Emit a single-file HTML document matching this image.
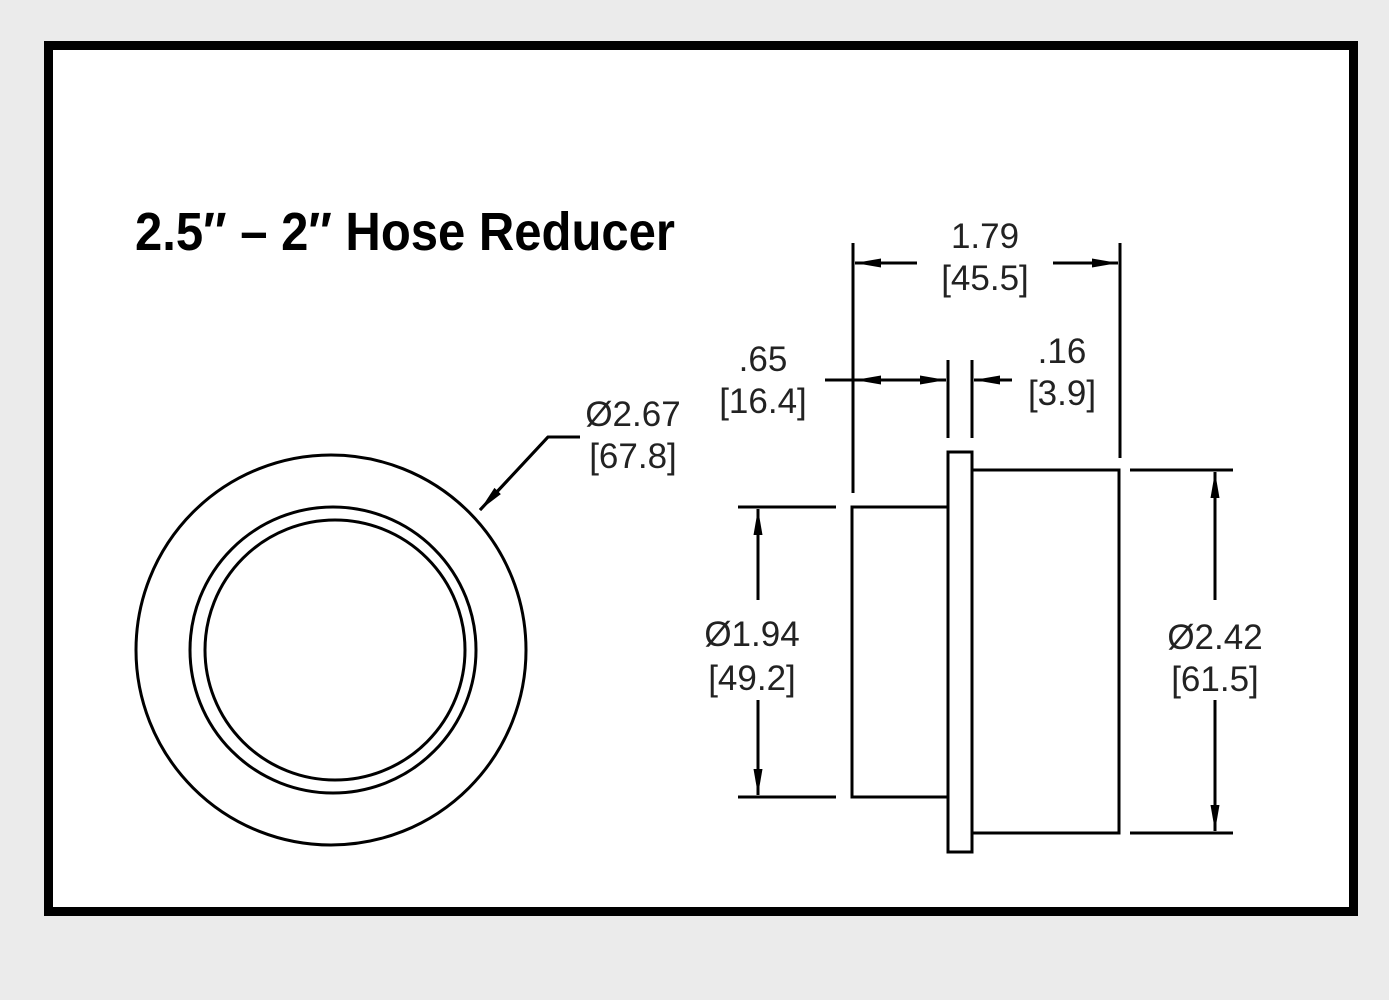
<!DOCTYPE html>
<html><head><style>html,body{margin:0;padding:0;background:#ebebeb;}svg{display:block}</style></head>
<body>
<svg width="1389" height="1000" viewBox="0 0 1389 1000" xmlns="http://www.w3.org/2000/svg">
<defs>
<marker id="a" markerWidth="26" markerHeight="12" refX="26" refY="6" orient="auto" markerUnits="userSpaceOnUse">
<path d="M0,1.5 L26,6 L0,10.5 Z" fill="#000"/></marker>
</defs>
<rect x="0" y="0" width="1389" height="1000" fill="#ebebeb"/>
<rect x="48.5" y="45.5" width="1305" height="866" fill="#fff" stroke="#000" stroke-width="9"/>
<text x="135" y="250" font-family="Liberation Sans, sans-serif" font-weight="bold" font-size="54" textLength="540" lengthAdjust="spacingAndGlyphs">2.5″ – 2″ Hose Reducer</text>
<g fill="none" stroke="#000" stroke-width="3">
<circle cx="331" cy="650" r="195"/>
<circle cx="333" cy="650" r="143"/>
<circle cx="335" cy="650" r="130"/>
<rect x="852" y="507" width="96" height="290"/>
<rect x="948" y="452" width="24" height="400"/>
<rect x="972" y="470" width="147" height="363"/>
<line x1="853" y1="243" x2="853" y2="493"/>
<line x1="1120" y1="243" x2="1120" y2="458"/>
<line x1="948" y1="360" x2="948" y2="438"/>
<line x1="972" y1="360" x2="972" y2="438"/>
<line x1="738" y1="507" x2="836" y2="507"/>
<line x1="738" y1="797" x2="836" y2="797"/>
<line x1="1130" y1="470" x2="1233" y2="470"/>
<line x1="1130" y1="833" x2="1233" y2="833"/>
<polyline points="580,437 548,437 480,510"/>
</g>
<g stroke="#000" stroke-width="3" marker-end="url(#a)">
<line x1="917" y1="263" x2="855" y2="263"/>
<line x1="1053" y1="263" x2="1118" y2="263"/>
<line x1="900" y1="380" x2="855" y2="380"/>
<line x1="900" y1="380" x2="946" y2="380"/>
<line x1="1012" y1="380" x2="974" y2="380"/>
<line x1="758" y1="600" x2="758" y2="509"/>
<line x1="758" y1="700" x2="758" y2="795"/>
<line x1="1215" y1="600" x2="1215" y2="472"/>
<line x1="1215" y1="700" x2="1215" y2="831"/>
<line x1="548" y1="437" x2="480" y2="510"/>
</g>
<line x1="825" y1="380" x2="900" y2="380" stroke="#000" stroke-width="3"/>
<g font-family="Liberation Sans, sans-serif" font-size="35" text-anchor="middle" fill="#222">
<text x="985" y="248">1.79</text>
<text x="985" y="290">[45.5]</text>
<text x="763" y="371">.65</text>
<text x="763" y="413">[16.4]</text>
<text x="1062" y="363">.16</text>
<text x="1062" y="405">[3.9]</text>
<text x="633" y="426">Ø2.67</text>
<text x="633" y="468">[67.8]</text>
<text x="752" y="646">Ø1.94</text>
<text x="752" y="690">[49.2]</text>
<text x="1215" y="649">Ø2.42</text>
<text x="1215" y="691">[61.5]</text>
</g>
</svg>
</body></html>
